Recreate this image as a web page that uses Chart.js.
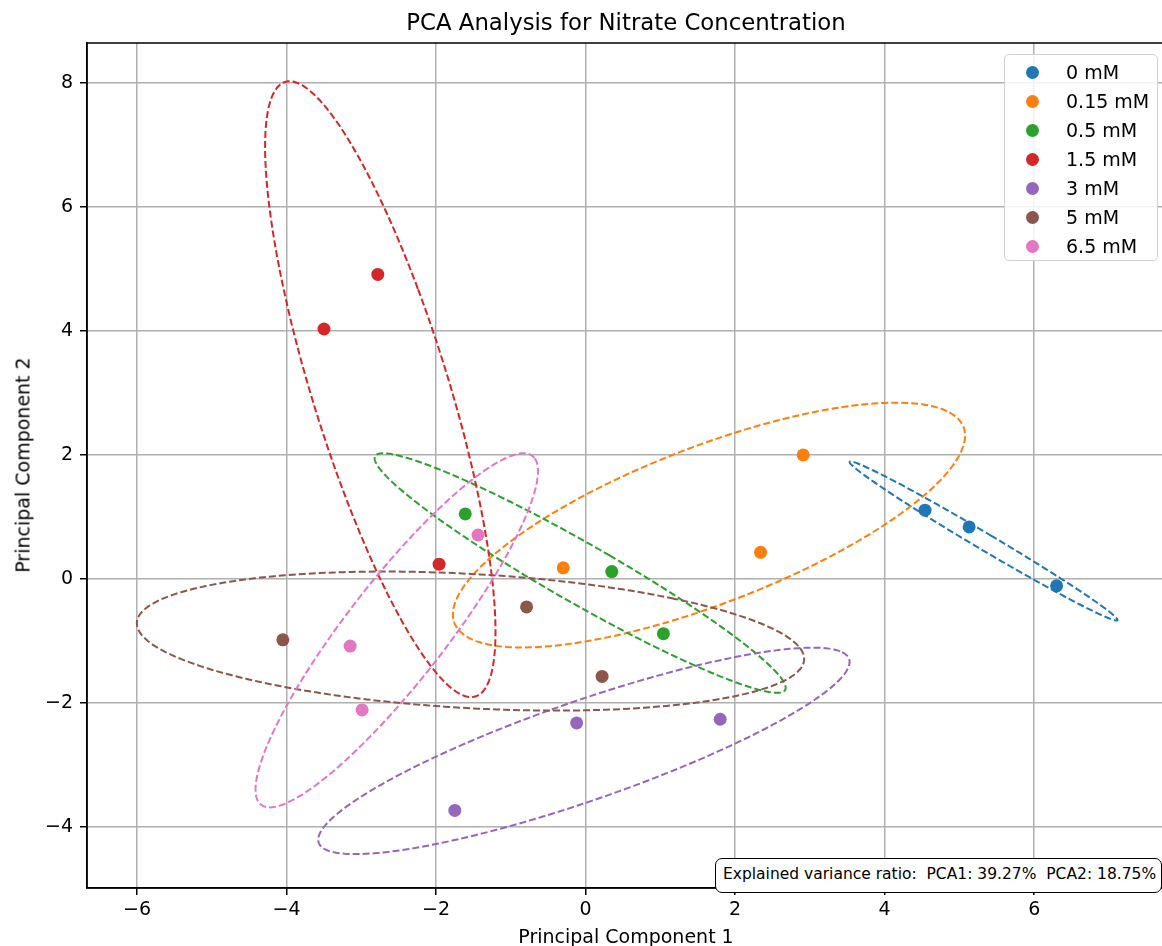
<!DOCTYPE html>
<html>
<head>
<meta charset="utf-8">
<script src="https://cdn.jsdelivr.net/npm/chart.js@4.4.0/dist/chart.umd.min.js"></script>
<style>
html, body { margin: 0; padding: 0; background: #fff; overflow: hidden; }
#wrap { position: relative; width: 1162px; height: 946px; overflow: hidden; font-family: 'DejaVu Sans', sans-serif; color: #000; }
#box { position: absolute; left: 0; top: 0; width: 1170px; height: 946px; }
.txt { position: absolute; white-space: nowrap; line-height: 1; }
#title { left: 626px; top: 11px; font-size: 22.8px; transform: translateX(-50%); }
#xlabel { left: 626px; top: 927px; font-size: 19px; transform: translateX(-50%); }
#ylabel { left: 23px; top: 465px; font-size: 19px; transform: translate(-50%, -50%) rotate(-90deg); }
#legend { position: absolute; left: 1004px; top: 54px; width: 154px; height: 207px; box-sizing: border-box;
  border: 1px solid #d0d0d0; border-radius: 5px; background: rgba(255,255,255,0.85); }
.row { position: absolute; left: 0; height: 29px; width: 100%; font-size: 19px; }
.dot { position: absolute; left: 21px; top: 8px; width: 13px; height: 13px; border-radius: 50%; }
.lab { position: absolute; left: 61px; top: 5px; line-height: 1; }
#variance { position: absolute; left: 715px; top: 858px; width: 447px; height: 35px; box-sizing: border-box;
  border: 1.5px solid #000; border-radius: 7px; background: #fff; font-size: 15.5px; padding: 8px 0 0 7px; line-height: 1; white-space: nowrap; }
</style>
</head>
<body>
<div id="wrap">
  <div id="box"><canvas id="chart"></canvas></div>
  <div class="txt" id="title">PCA Analysis for Nitrate Concentration</div>
  <div class="txt" id="xlabel">Principal Component 1</div>
  <div class="txt" id="ylabel">Principal Component 2</div>
  <div id="legend"></div>
  <div id="variance">Explained variance ratio:&nbsp; PCA1: 39.27%&nbsp; PCA2: 18.75%</div>
</div>
<script>
// nitrate groups
const groupNames = ['0 mM', '0.15 mM', '0.5 mM', '1.5 mM', '3 mM', '5 mM', '6.5 mM'];
const groupColors = ['#1f77b4', '#ff7f0e', '#2ca02c', '#d62728', '#9467bd', '#8c564b', '#e377c2'];

// principal component scores, one list per group
const pc1 = [
    [4.54, 5.13, 6.30],
    [2.91, 2.34, -0.30],
    [-1.61, 0.35, 1.04],
    [-2.78, -3.50, -1.96],
    [-0.12, 1.80, -1.75],
    [-4.05, -0.79, 0.22],
    [-3.15, -1.44, -2.99]
];
const pc2 = [
    [1.11, 0.84, -0.11],
    [2.00, 0.43, 0.18],
    [1.05, 0.12, -0.88],
    [4.91, 4.03, 0.24],
    [-2.32, -2.26, -3.73],
    [-0.98, -0.45, -1.57],
    [-1.08, 0.71, -2.11]
];

const xTicks = [-6, -4, -2, 0, 2, 4, 6];
const yTicks = [-4, -2, 0, 2, 4, 6, 8];
const nStd = 2;

Chart.defaults.font.family = "'DejaVu Sans', sans-serif";
Chart.defaults.color = '#000';

// legend in the top right corner
const legendDiv = document.getElementById('legend');
groupNames.forEach((name, i) => {
    const row = document.createElement('div');
    row.className = 'row';
    row.style.top = (3 + i * 29) + 'px';
    row.innerHTML = `<span class="dot" style="background:${groupColors[i]}"></span><span class="lab">${name}</span>`;
    legendDiv.appendChild(row);
});

const minus = (v) => String(v).replace('-', '\u2212');

//공분산으로 신뢰 타원 그리기 (matplotlib confidence_ellipse 방식)
const ellipsePlugin = {
    id: 'confEllipse',
    afterDatasetsDraw(chart) {
        const { ctx, chartArea, scales } = chart;
        ctx.save();
        ctx.beginPath();
        ctx.rect(chartArea.left, chartArea.top, chartArea.width, chartArea.height);
        ctx.clip();
        chart.data.datasets.forEach((ds) => {
            const xs = ds.data.map(p => p.x);
            const ys = ds.data.map(p => p.y);
            const n = xs.length;
            const mx = xs.reduce((a, b) => a + b, 0) / n;
            const my = ys.reduce((a, b) => a + b, 0) / n;
            let cxx = 0, cyy = 0, cxy = 0;
            for (let i = 0; i < n; i++) {
                cxx += (xs[i] - mx) ** 2;
                cyy += (ys[i] - my) ** 2;
                cxy += (xs[i] - mx) * (ys[i] - my);
            }
            cxx /= n - 1; cyy /= n - 1; cxy /= n - 1;
            const pearson = cxy / Math.sqrt(cxx * cyy);
            const rx = Math.sqrt(1 + pearson);
            const ry = Math.sqrt(1 - pearson);
            const sx = Math.sqrt(cxx) * nStd;
            const sy = Math.sqrt(cyy) * nStd;
            ctx.beginPath();
            for (let k = 0; k <= 240; k++) {
                const t = 2 * Math.PI * k / 240;
                const ex = rx * Math.cos(t), ey = ry * Math.sin(t);
                const u = (ex - ey) / Math.SQRT2;
                const v = (ex + ey) / Math.SQRT2;
                const px = scales.x.getPixelForValue(mx + u * sx);
                const py = scales.y.getPixelForValue(my + v * sy);
                if (k === 0) ctx.moveTo(px, py); else ctx.lineTo(px, py);
            }
            ctx.setLineDash([7, 3]);
            ctx.lineWidth = 2;
            ctx.strokeStyle = ds.backgroundColor;
            ctx.stroke();
        });
        ctx.restore();
    }
};

// axes frame
const framePlugin = {
    id: 'frame',
    afterDraw(chart) {
        const { ctx, chartArea } = chart;
        ctx.save();
        ctx.strokeStyle = '#000';
        ctx.lineWidth = 1.5;
        ctx.setLineDash([]);
        ctx.strokeRect(chartArea.left, chartArea.top, chartArea.width, chartArea.height);
        ctx.restore();
    }
};

const datasets = groupNames.map((name, i) => ({
    label: name,
    data: pc1[i].map((x, j) => ({ x: x, y: pc2[i][j] })),
    backgroundColor: groupColors[i],
    borderWidth: 0,
    pointRadius: 6.5
}));

const axisStyle = {
    grid: { color: '#b0b0b0', lineWidth: 1.5, tickColor: '#000', tickLength: 7, tickWidth: 1.5 },
    border: { display: true, color: '#000', width: 1.5 }
};

new Chart(document.getElementById('chart'), {
    type: 'scatter',
    data: { datasets: datasets },
    options: {
        responsive: true,
        maintainAspectRatio: false,
        animation: false,
        events: [],
        layout: { padding: { top: 43, right: 4, left: 0, bottom: 0 } },
        plugins: {
            legend: { display: false },
            title: { display: false },
            tooltip: { enabled: false }
        },
        scales: {
            x: {
                type: 'linear',
                min: -6.67,
                max: 7.73,
                ...axisStyle,
                afterBuildTicks: (axis) => { axis.ticks = xTicks.map(v => ({ value: v })); },
                afterFit: (axis) => { axis.height = 58; },
                ticks: { font: { size: 19 }, padding: 4, callback: (v) => minus(v) }
            },
            y: {
                type: 'linear',
                min: -4.98,
                max: 8.64,
                ...axisStyle,
                afterBuildTicks: (axis) => { axis.ticks = yTicks.map(v => ({ value: v })); },
                afterFit: (axis) => { axis.width = 87; },
                ticks: { font: { size: 19 }, padding: 7, callback: (v) => minus(v) }
            }
        }
    },
    plugins: [ellipsePlugin, framePlugin]
});
</script>
</body>
</html>
